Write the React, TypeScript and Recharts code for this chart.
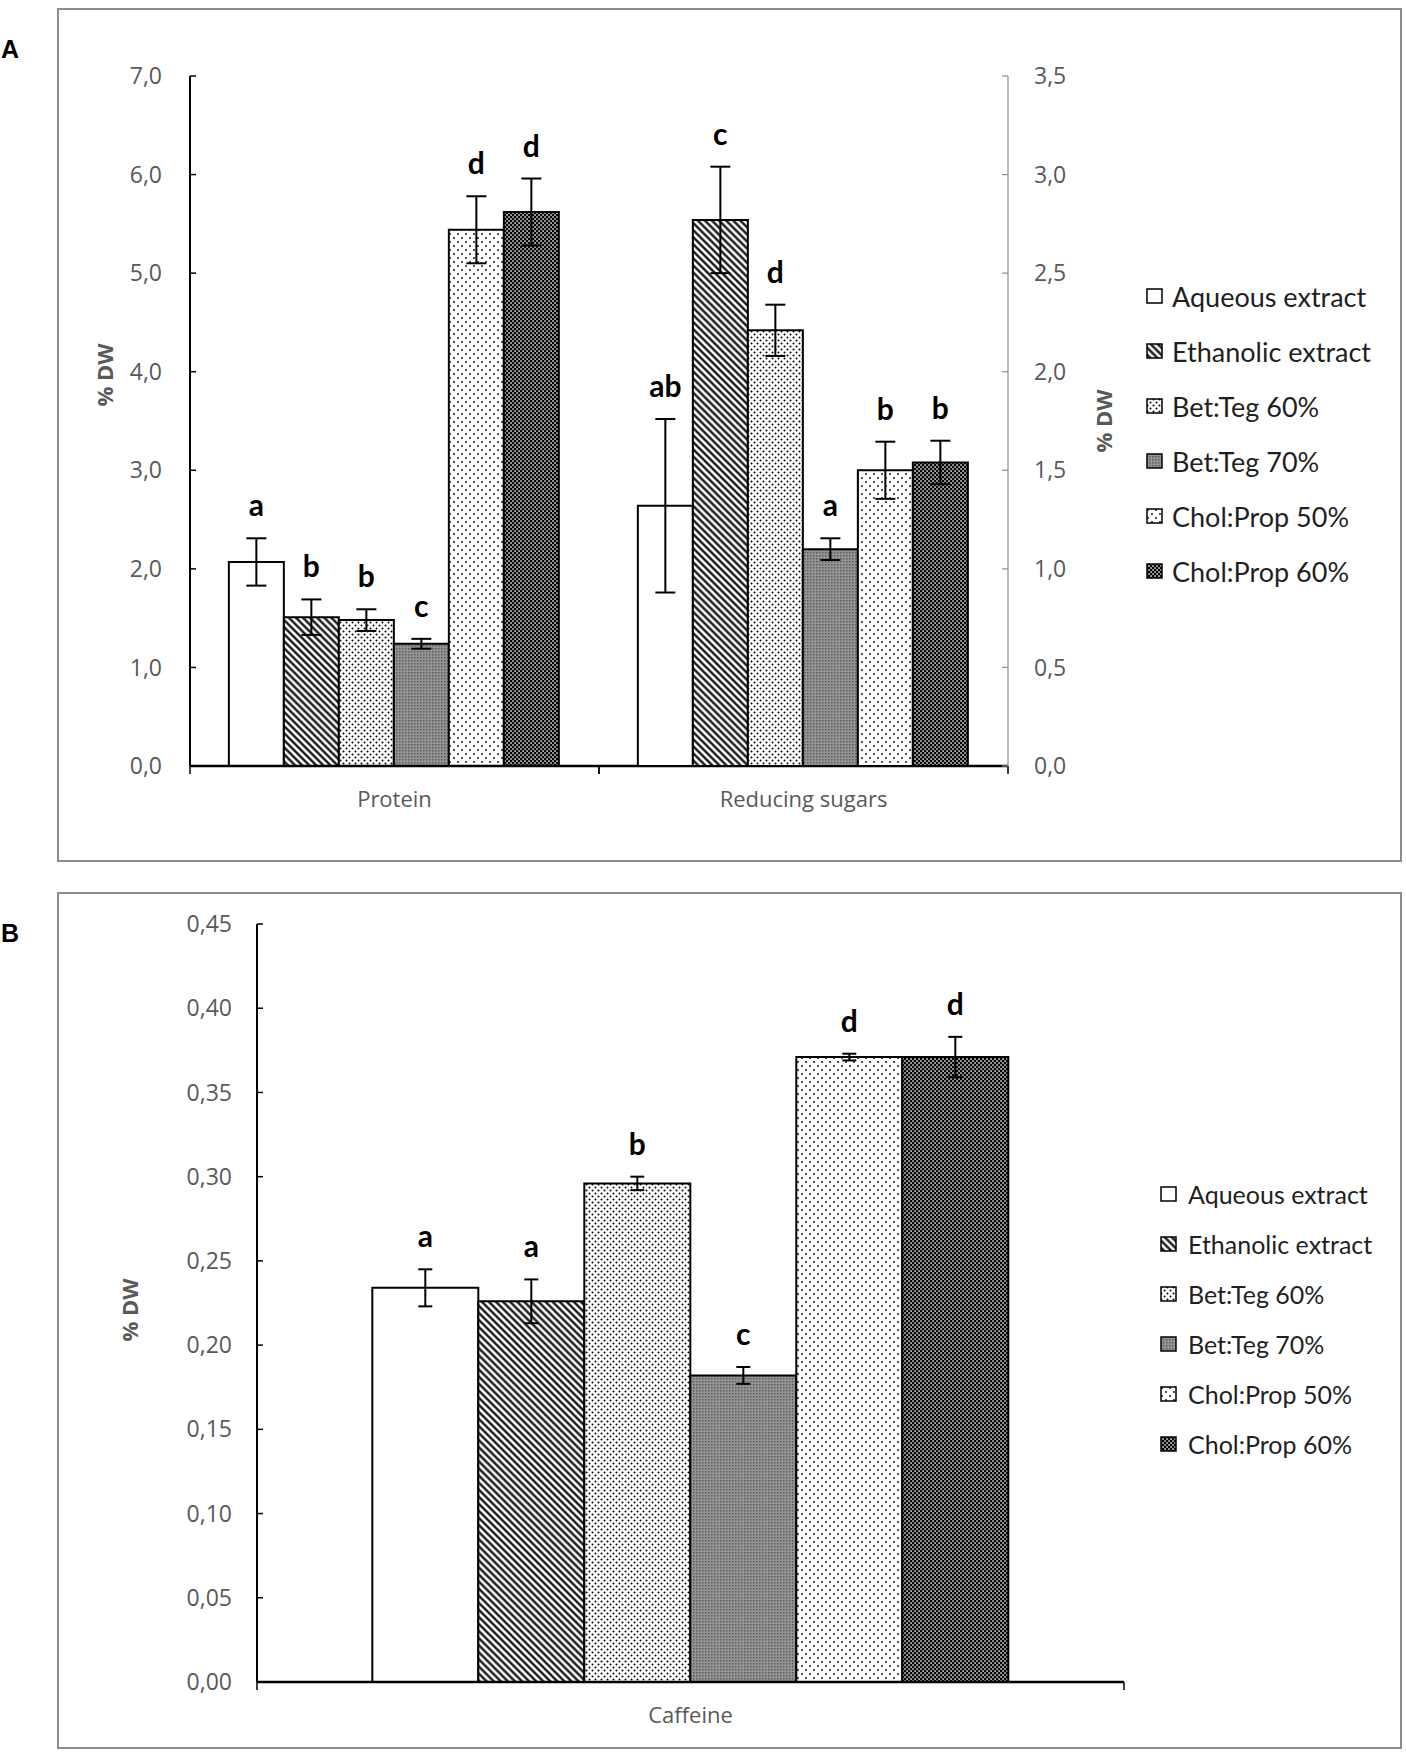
import React from "react";
import { BarChart, Bar, XAxis, YAxis, ErrorBar, LabelList, Label } from "recharts";

// treatments (series) and their keys
const treatments = [
  "Aqueous extract",
  "Ethanolic extract",
  "Bet:Teg 60%",
  "Bet:Teg 70%",
  "Chol:Prop 50%",
  "Chol:Prop 60%",
];
const seriesKeys = ["aq", "eth", "bt60", "bt70", "cp50", "cp60"];

// panel A
const panelACats = ["Protein", "Reducing sugars"];
const proteinMean = [2.07, 1.51, 1.48, 1.24, 5.44, 5.62];
const proteinErr = [0.24, 0.18, 0.11, 0.05, 0.34, 0.34];
const proteinLetters = ["a", "b", "b", "c", "d", "d"];
const sugarMean = [1.32, 2.77, 2.21, 1.1, 1.5, 1.54];
const sugarErr = [0.44, 0.27, 0.13, 0.055, 0.145, 0.11];
const sugarLetters = ["ab", "c", "d", "a", "b", "b"];
const leftTicksA = [0, 1, 2, 3, 4, 5, 6, 7];
const rightTicksA = [0, 0.5, 1, 1.5, 2, 2.5, 3, 3.5];

// panel B
const panelBCats = ["Caffeine"];
const caffeineMean = [0.234, 0.226, 0.296, 0.182, 0.371, 0.371];
const caffeineErr = [0.011, 0.013, 0.004, 0.005, 0.002, 0.012];
const caffeineLetters = ["a", "a", "b", "c", "d", "d"];
const ticksB = [0, 0.05, 0.1, 0.15, 0.2, 0.25, 0.3, 0.35, 0.4, 0.45];

const fills = [
  "#ffffff",
  "url(#pat-eth)",
  "url(#pat-bt60)",
  "url(#pat-bt70)",
  "url(#pat-cp50)",
  "url(#pat-cp60)",
];

const GRAY = "#595959";
const TICK_FONT = "'Open Sans', sans-serif";
const LEGEND_FONT = "Lato, sans-serif";

type Row = Record<string, string | number | null>;

function makeRow(cat: string, means: number[] | null, errs: number[] | null, letters: string[] | null): Row {
  const row: Row = { cat };
  seriesKeys.forEach((k, i) => {
    row[k] = means ? means[i] : null;
    row[k + "_e"] = errs ? errs[i] : null;
    row[k + "_l"] = letters ? letters[i] : null;
  });
  return row;
}

const proteinRows = [
  makeRow(panelACats[0], proteinMean, proteinErr, proteinLetters),
  makeRow(panelACats[1], null, null, null),
];
const sugarRows = [
  makeRow(panelACats[0], null, null, null),
  makeRow(panelACats[1], sugarMean, sugarErr, sugarLetters),
];
const caffeineRows = [makeRow(panelBCats[0], caffeineMean, caffeineErr, caffeineLetters)];

const fmt1 = (v: number) => v.toFixed(1).replace(".", ",");
const fmt2 = (v: number) => v.toFixed(2).replace(".", ",");

// label value packs letter, error and mean so the letter can sit above the error bar
const letterKey = (k: string) => (r: Row) =>
  r[k] == null ? null : `${r[k + "_l"]}|${r[k + "_e"]}|${r[k]}`;

function LetterLabel(props: any) {
  const vb = props.viewBox || props;
  const { x, y, width, height } = vb;
  if (!props.value) return null;
  const [letter, errS, valS] = String(props.value).split("|");
  const val = parseFloat(valS);
  const err = parseFloat(errS) || 0;
  if (!letter || !val) return null;
  const h = Math.abs(height);
  const top = height >= 0 ? y : y + height;
  const errTop = top - (err / val) * h;
  return (
    <text
      x={x + width / 2}
      y={errTop - 22}
      textAnchor="middle"
      fontFamily={LEGEND_FONT}
      fontWeight={700}
      fontSize={30}
      fill="#000"
    >
      {letter}
    </text>
  );
}

function CatTick(props: any) {
  const { x, y, payload, band } = props;
  return (
    <g>
      <line x1={x - band / 2} x2={x - band / 2} y1={y} y2={y + 8} stroke="#000" strokeWidth={1.5} />
      <line x1={x + band / 2} x2={x + band / 2} y1={y} y2={y + 8} stroke="#000" strokeWidth={1.5} />
      <text x={x} y={y + 41} textAnchor="middle" fontFamily={TICK_FONT} fontSize={22} fill={GRAY}>
        {payload.value}
      </text>
    </g>
  );
}

function yTitle(dx: number, dy: number) {
  return (props: any) => {
    const vb = props.viewBox;
    const cx = vb.x + vb.width / 2 + dx;
    const cy = vb.y + vb.height / 2 + dy;
    return (
      <text
        x={cx}
        y={cy}
        transform={`rotate(-90, ${cx}, ${cy})`}
        textAnchor="middle"
        dominantBaseline="central"
        fontFamily={TICK_FONT}
        fontWeight={700}
        fontSize={22}
        fill={GRAY}
      >
        % DW
      </text>
    );
  };
}

function seriesBars(yAxisId: string, capWidth: number) {
  return seriesKeys.map((k, i) => (
    <Bar
      key={k}
      dataKey={k}
      name={treatments[i]}
      yAxisId={yAxisId}
      fill={fills[i]}
      stroke="#000"
      strokeWidth={2}
      isAnimationActive={false}
    >
      <ErrorBar
        dataKey={k + "_e"}
        width={capWidth}
        stroke="#000"
        strokeWidth={2}
        direction="y"
        isAnimationActive={false}
      />
      <LabelList dataKey={letterKey(k)} content={<LetterLabel />} />
    </Bar>
  ));
}

function LegendBlock({ left, top, step, fontSize, gap }: { left: number; top: number; step: number; fontSize: number; gap: number }) {
  return (
    <div style={{ position: "absolute", left, top }}>
      {treatments.map((t, i) => (
        <div key={t} style={{ display: "flex", alignItems: "center", height: step }}>
          <svg width={18} height={17} style={{ display: "block" }}>
            <rect x={1} y={1} width={15} height={14} fill={fills[i]} stroke="#000" strokeWidth={1.5} />
          </svg>
          <span style={{ marginLeft: gap, fontFamily: LEGEND_FONT, fontSize, color: "#1f1f1f", whiteSpace: "nowrap" }}>
            {t}
          </span>
        </div>
      ))}
    </div>
  );
}

// layout of panel A plot: x 190..1008, y 76..766
const A_W = 1406;
const A_H = 860;
const A_MARGIN = { top: 76, left: 130, right: 338, bottom: 34 };
const A_BAND = (A_W - A_MARGIN.left - A_MARGIN.right - 120) / panelACats.length;

// layout of panel B plot: x 257..1124, y 924..1682 (chart top at 880)
const B_TOP = 880;
const B_W = 1406;
const B_H = 873;
const B_MARGIN = { top: 44, left: 187, right: 282, bottom: 11 };
const B_BAND = (B_W - B_MARGIN.left - B_MARGIN.right - 70) / panelBCats.length;

export default function App() {
  return (
    <div style={{ position: "absolute", left: 0, top: 0, width: 1406, height: 1753, background: "#fff" }}>
      <svg width={1406} height={1753} style={{ position: "absolute", left: 0, top: 0 }}>
        <defs>
          <pattern id="pat-eth" width="5" height="5" patternUnits="userSpaceOnUse" patternTransform="rotate(-45)">
            <rect width="5" height="5" fill="#fff" />
            <line x1="2.5" y1="0" x2="2.5" y2="5" stroke="#000" strokeWidth="2.2" />
          </pattern>
          <pattern id="pat-bt60" width="6" height="6" patternUnits="userSpaceOnUse">
            <rect width="6" height="6" fill="#fff" />
            <circle cx="1.5" cy="1.5" r="1" fill="#000" />
            <circle cx="4.5" cy="4.5" r="1" fill="#000" />
          </pattern>
          <pattern id="pat-bt70" width="3" height="3" patternUnits="userSpaceOnUse">
            <rect width="3" height="3" fill="#959595" />
            <rect width="1.5" height="1.5" fill="#5c5c5c" />
          </pattern>
          <pattern id="pat-cp50" width="8" height="8" patternUnits="userSpaceOnUse">
            <rect width="8" height="8" fill="#fff" />
            <circle cx="2" cy="2" r="0.9" fill="#000" />
            <circle cx="6" cy="6" r="0.9" fill="#000" />
          </pattern>
          <pattern id="pat-cp60" width="4" height="4" patternUnits="userSpaceOnUse">
            <rect width="4" height="4" fill="#000" />
            <rect x="0.3" y="0.3" width="1.5" height="1.5" fill="#fff" />
            <rect x="2.3" y="2.3" width="1.5" height="1.5" fill="#fff" />
          </pattern>
        </defs>
        <rect x={58} y={9} width={1343} height={852} fill="none" stroke="#8c8c8c" strokeWidth={2} />
        <rect x={58} y={893} width={1343} height={855} fill="none" stroke="#8c8c8c" strokeWidth={2} />
        <text x={1} y={58} fontFamily="'Liberation Sans', Arial, sans-serif" fontWeight={700} fontSize={25} fill="#000">
          A
        </text>
        <text x={1} y={942} fontFamily="'Liberation Sans', Arial, sans-serif" fontWeight={700} fontSize={25} fill="#000">
          B
        </text>
      </svg>

      {/* Panel A: protein on the left axis */}
      <div style={{ position: "absolute", left: 0, top: 0 }}>
        <BarChart width={A_W} height={A_H} data={proteinRows} margin={A_MARGIN} barCategoryGap="9.5%" barGap={0}>
          <XAxis
            dataKey="cat"
            height={60}
            tickSize={0}
            tickMargin={0}
            axisLine={{ stroke: "#000", strokeWidth: 2.5 }}
            tickLine={false}
            tick={<CatTick band={A_BAND} />}
          />
          <YAxis
            yAxisId="left"
            orientation="left"
            width={60}
            domain={[0, 7]}
            ticks={leftTicksA}
            tickFormatter={fmt1}
            tickSize={-6}
            tickMargin={34}
            axisLine={{ stroke: "#000", strokeWidth: 2 }}
            tickLine={{ stroke: "#000", strokeWidth: 1.5 }}
            tick={{ fill: GRAY, fontSize: 23, fontFamily: TICK_FONT }}
          >
            <Label content={yTitle(-56, -46)} />
          </YAxis>
          <YAxis
            yAxisId="right"
            orientation="right"
            width={60}
            domain={[0, 3.5]}
            ticks={rightTicksA}
            axisLine={false}
            tickLine={false}
            tick={false}
          />
          {seriesBars("left", 10)}
        </BarChart>
      </div>

      {/* Panel A: reducing sugars on the right axis */}
      <div style={{ position: "absolute", left: 0, top: 0 }}>
        <BarChart width={A_W} height={A_H} data={sugarRows} margin={A_MARGIN} barCategoryGap="9.5%" barGap={0}>
          <XAxis dataKey="cat" height={60} axisLine={false} tickLine={false} tick={false} />
          <YAxis yAxisId="left" orientation="left" width={60} domain={[0, 7]} axisLine={false} tickLine={false} tick={false} />
          <YAxis
            yAxisId="right"
            orientation="right"
            width={60}
            domain={[0, 3.5]}
            ticks={rightTicksA}
            tickFormatter={fmt1}
            tickSize={-6}
            tickMargin={32}
            axisLine={{ stroke: "#8c8c8c", strokeWidth: 1.2 }}
            tickLine={{ stroke: "#8c8c8c", strokeWidth: 1.2 }}
            tick={{ fill: GRAY, fontSize: 23, fontFamily: TICK_FONT }}
          >
            <Label content={yTitle(65, 0)} />
          </YAxis>
          {seriesBars("right", 10)}
        </BarChart>
      </div>

      <LegendBlock left={1146} top={269} step={55} fontSize={27} gap={8} />

      {/* Panel B: caffeine */}
      <div style={{ position: "absolute", left: 0, top: B_TOP }}>
        <BarChart width={B_W} height={B_H} data={caffeineRows} margin={B_MARGIN} barCategoryGap="13.3%" barGap={0}>
          <XAxis
            dataKey="cat"
            height={60}
            tickSize={0}
            tickMargin={0}
            axisLine={{ stroke: "#000", strokeWidth: 2.5 }}
            tickLine={false}
            tick={<CatTick band={B_BAND} />}
          />
          <YAxis
            yAxisId="left"
            orientation="left"
            width={70}
            domain={[0, 0.45]}
            ticks={ticksB}
            tickFormatter={fmt2}
            tickSize={-6}
            tickMargin={31}
            axisLine={{ stroke: "#000", strokeWidth: 2 }}
            tickLine={{ stroke: "#000", strokeWidth: 1.5 }}
            tick={{ fill: GRAY, fontSize: 23, fontFamily: TICK_FONT }}
          >
            <Label content={yTitle(-93, 7)} />
          </YAxis>
          {seriesBars("left", 7)}
        </BarChart>
      </div>

      <LegendBlock left={1160} top={1169} step={50} fontSize={25} gap={10} />
    </div>
  );
}
